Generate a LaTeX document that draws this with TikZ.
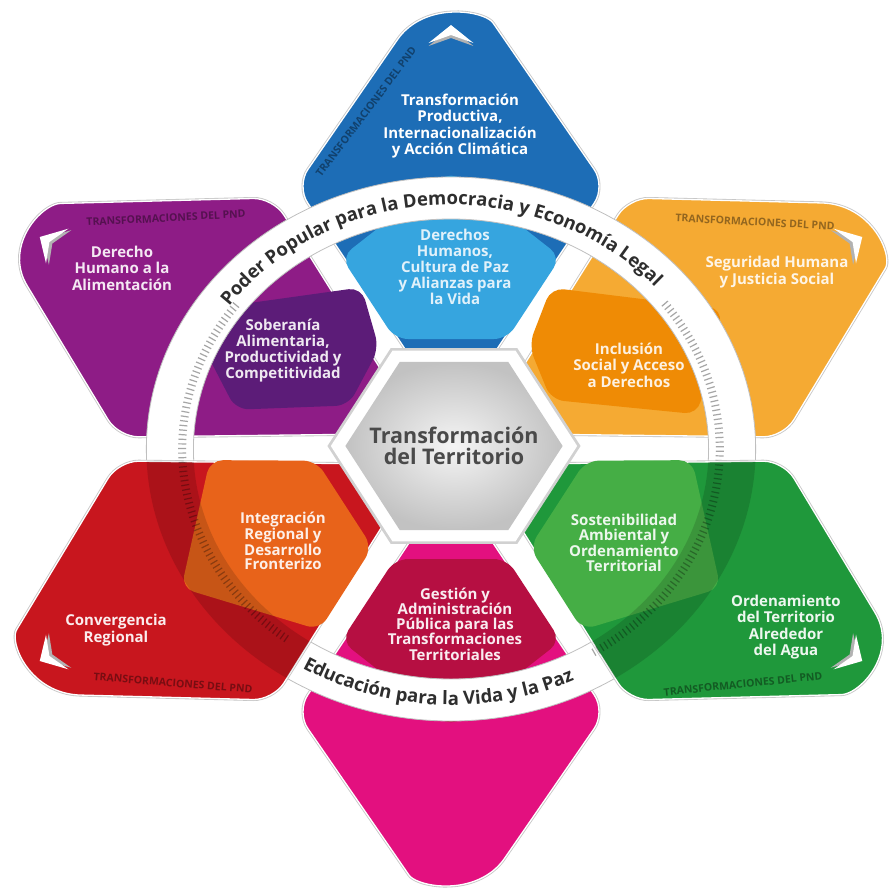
\documentclass[tikz,border=0pt]{standalone}
\usepackage{fontspec}
\setmainfont{Open Sans}
\usetikzlibrary{decorations.text}
\definecolor{blueP}{HTML}{1D6DB6}
\definecolor{blueI}{HTML}{36A5DF}
\definecolor{purpleP}{HTML}{8E1C86}
\definecolor{purpleI}{HTML}{5C1C78}
\definecolor{orangeP}{HTML}{F5AA33}
\definecolor{orangeI}{HTML}{EF8B05}
\definecolor{redP}{HTML}{C8161E}
\definecolor{redI}{HTML}{E8631A}
\definecolor{greenP}{HTML}{1F983B}
\definecolor{greenI}{HTML}{45AE45}
\definecolor{pinkP}{HTML}{E3107F}
\definecolor{pinkI}{HTML}{B60F42}
\definecolor{ringtxt}{HTML}{2E2E2E}
\definecolor{hextxt}{HTML}{4A4A4A}
% petal: broad rounded tip (explicit arc), 20pt rounding elsewhere
\newcommand\petalpathfor[2]{%
  \path[rotate=#1, #2] (47.7,409.5) arc[start angle=31.6, end angle=148.4, radius=56]
     [rounded corners=20pt] -- (-138,263) -- (0,31) -- (138,263) -- cycle;}
\newcommand\petalfill[2]{%
  \petalpathfor{#1}{draw=black!22, line width=3pt}
  \petalpathfor{#1}{draw=white, line width=1.3pt, fill=#2}}
\newcommand\innerfill[2]{%
  \fill[rotate=#1, rounded corners=13pt, #2] (0,278) -- (98,192) -- (50,110) -- (-50,110) -- (-98,192) -- cycle;}
\newcommand\petalclip[1]{%
  \clip[rotate=#1] (47.7,409.5) arc[start angle=31.6, end angle=148.4, radius=56]
     [rounded corners=20pt] -- (-138,263) -- (0,31) -- (138,263) -- cycle;}
\newcommand\chev[1]{%
  \fill[rotate=#1, black!30] (0,421) -- (20,403) -- (0,411) -- (-20,403) -- cycle;
  \fill[rotate=#1, white] (0,424) -- (20,406) -- (0,414) -- (-20,406) -- cycle;}
\newcommand\hexpath[1]{(0:#1) -- (60:#1) -- (120:#1) -- (180:#1) -- (240:#1) -- (300:#1) -- cycle}
\tikzset{
  ptxt/.style={align=center, font=\fontsize{15}{16.5}\selectfont\bfseries, inner sep=0pt},
  lbl/.style={font=\fontsize{10.5}{10.5}\selectfont\bfseries, inner sep=0pt},
  ticks/.style={line width=8pt, dash pattern=on 1.2pt off 3.4pt},
  ringband/.style={even odd rule},
}
\begin{document}
\begin{tikzpicture}[x=1pt,y=1pt]
\useasboundingbox (0,0) rectangle (891,-894);
\fill[white] (0,0) rectangle (891,-894);
\coordinate (C) at (451,-449);
\coordinate (H) at (454,-446);
\begin{scope}[shift={(C)}, xscale=1.12]
  \petalfill{180}{pinkP}
  \petalfill{0}{blueP}
  \petalfill{60}{purpleP}
  \petalfill{-60}{orangeP}
  \innerfill{0}{blueI}
  \fill[rotate=60, rounded corners=13pt, purpleI] (0,274) -- (100,150) -- (55,106) -- (-8,101) -- (-62,186) -- cycle;
  \fill[rotate=-60, rounded corners=13pt, orangeI] (0,280) -- (-95,158) -- (-55,112) -- (2,102) -- (80,208) -- cycle;
  \innerfill{180}{pinkI}
  % ring
  \fill[white, ringband] (0,0) circle (272) (0,0) circle (230);
  \draw[black!25, line width=0.8pt] (0,0) circle (272) (0,0) circle (230);
  \draw[ticks, black!35] (143:240) arc[start angle=143, end angle=233, radius=240];
  \draw[ticks, black!35] (-58:240) arc[start angle=-58, end angle=38, radius=240];
  % lower side petals over the ring
  \petalfill{120}{redP}
  \petalfill{-120}{greenP}
  \innerfill{120}{redI}
  \innerfill{-120}{greenI}
  \begin{scope}
    \petalclip{120}
    \fill[black, opacity=.14, ringband] (0,0) circle (272) (0,0) circle (230);
    \draw[ticks, black, opacity=.3] (143:240) arc[start angle=143, end angle=233, radius=240];
  \end{scope}
  \begin{scope}
    \petalclip{-120}
    \fill[black, opacity=.14, ringband] (0,0) circle (272) (0,0) circle (230);
    \draw[ticks, black, opacity=.3] (-58:240) arc[start angle=-58, end angle=38, radius=240];
  \end{scope}
  % chevrons
  \chev{0}\chev{60}\chev{-60}\chev{120}\chev{-120}
\end{scope}
% central hexagon
\begin{scope}[shift={(H)}, xscale=1.12]
  \fill[black!18] \hexpath{113};
  \fill[white] \hexpath{110};
  \shade[inner color=black!4, outer color=black!24] \hexpath{97};
\end{scope}
% ring texts
\path[shift={(C)}, decorate, decoration={text along path, text align=center,
  text={|\fontsize{18.5}{18.5}\selectfont\bfseries\color{ringtxt}|Poder Popular para la Democracia y Economía Legal}}]
  (156:273 and 244) arc[start angle=156, end angle=30, x radius=273, y radius=244];
\path[shift={(C)}, decorate, decoration={text along path, text align=center,
  text={|\fontsize{18.5}{18.5}\selectfont\bfseries\color{ringtxt}|Educación para la Vida y la Paz}}]
  (212:287 and 256) arc[start angle=212, end angle=322, x radius=287, y radius=256];
% petal texts
\node[ptxt, text=white] (t1) at (460,-126) {Transformación\\Productiva,\\Internacionalización\\y Acción Climática};
\node[ptxt, text=white!85!blueI, font=\fontsize{15}{16}\selectfont\bfseries] (t2) at (455,-267) {Derechos\\Humanos,\\Cultura de Paz\\y Alianzas para\\la Vida};
\node[ptxt, text=white!90!purpleP] (t3) at (122,-268) {Derecho\\Humano a la\\Alimentación};
\node[ptxt, text=white!90!purpleI, font=\fontsize{15}{16}\selectfont\bfseries] (t4) at (283,-351) {Soberanía\\Alimentaria,\\Productividad y\\Competitividad};
\node[ptxt, text=white!88!orangeP] (t5) at (777,-272) {Seguridad Humana\\y Justicia Social};
\node[ptxt, text=white!88!orangeI] (t6) at (629,-365) {Inclusión\\Social y Acceso\\a Derechos};
\node[ptxt, text=white!92!redP] (t7) at (116,-630) {Convergencia\\Regional};
\node[ptxt, text=white!90!redI, font=\fontsize{15}{14.5}\selectfont\bfseries] (t8) at (283,-541) {Integración\\Regional y\\Desarrollo\\Fronterizo};
\node[ptxt, text=white!90!greenI, font=\fontsize{15}{15.5}\selectfont\bfseries] (t9) at (624,-543) {Sostenibilidad\\Ambiental y\\Ordenamiento\\Territorial};
\node[ptxt, text=white!92!greenP] (t10) at (786,-627) {Ordenamiento\\del Territorio\\Alrededor\\del Agua};
\node[ptxt, text=white!92!pinkI, font=\fontsize{15}{15.3}\selectfont\bfseries] (t11) at (455,-624) {Gestión y\\Administración\\Pública para las\\Transformaciones\\Territoriales};
\node[align=center, inner sep=0pt, text=hextxt, font=\fontsize{21.5}{21}\selectfont\bfseries] (t12) at (H) {Transformación\\del Territorio};
% small labels
\node[lbl, text=blueP!60!black, rotate=53] (l1) at (366,-112) {TRANSFORMACIONES DEL PND};
\node[lbl, text=purpleP!60!black, rotate=3] (l2) at (166,-218) {TRANSFORMACIONES DEL PND};
\node[lbl, text=orangeP!60!black, rotate=-3] (l3) at (755,-222) {TRANSFORMACIONES DEL PND};
\node[lbl, text=redP!60!black, rotate=-4.7] (l4) at (173,-683) {TRANSFORMACIONES DEL PND};
\node[lbl, text=greenP!60!black, rotate=6] (l5) at (743,-684) {TRANSFORMACIONES DEL PND};
\end{tikzpicture}
\end{document}
